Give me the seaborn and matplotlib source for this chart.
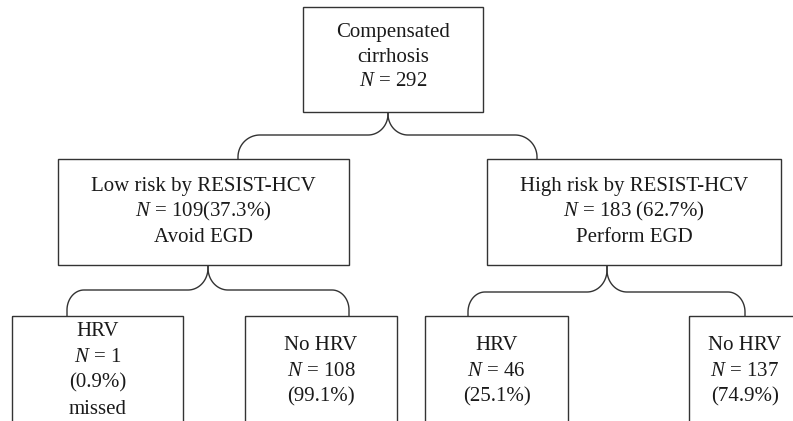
import numpy as np
import matplotlib
matplotlib.use("Agg")
import matplotlib.pyplot as plt
from matplotlib.patches import Rectangle
import seaborn as sns

# flowchart values
total_label = ["Compensated", "cirrhosis"]
total_n = 292
risk_groups = ["Low risk by RESIST-HCV", "High risk by RESIST-HCV"]
risk_n = [109, 183]
risk_pct = ["(37.3%)", "(62.7%)"]
risk_sep = ["", " "]
risk_action = ["Avoid EGD", "Perform EGD"]
outcome_labels = ["HRV", "No HRV", "HRV", "No HRV"]
outcome_n = [1, 108, 46, 137]
outcome_pct = ["(0.9%)", "(99.1%)", "(25.1%)", "(74.9%)"]
outcome_note = ["missed", "", "", ""]

sns.set_style("white")
plt.rcParams['font.family'] = ['Liberation Serif', 'DejaVu Serif']
plt.rcParams['mathtext.fontset'] = 'custom'
plt.rcParams['mathtext.rm'] = 'Liberation Serif'
plt.rcParams['mathtext.it'] = 'Liberation Serif:italic'

LC = '#333333'
LW = 1.0
FS = 15

fig = plt.figure(figsize=(7.93, 4.21), dpi=100)
ax = fig.add_axes([0, 0, 1, 1])
ax.set_xlim(0, 793)
ax.set_ylim(421, 0)
ax.axis('off')


def box(x0, y0, x1, y1):
    ax.add_patch(Rectangle((x0, y0), x1 - x0, y1 - y0, fill=False,
                           edgecolor=LC, linewidth=LW, clip_on=True))


def lines(xc, y0, texts, step=26):
    for i, t in enumerate(texts):
        ax.text(xc, y0 + i * step, t, ha='center', va='center', fontsize=FS,
                color='#1a1a1a')


def arc(cx, cy, rx, ry, t0, t1):
    t = np.radians(np.linspace(t0, t1, 30))
    return cx + rx * np.cos(t), cy - ry * np.sin(t)


def brace(xc, ytop, ybar, ybot, xl, xr, rx=20, ry=21, rx2=18, ry2=20):
    xs, ys = [], []
    # left drop
    xs += [xl]; ys += [ybot]
    a = arc(xl + rx2, ybar + ry2, rx2, ry2, 180, 90)
    xs += list(a[0]); ys += list(a[1])
    a = arc(xc - rx, ybar - ry, rx, ry, 270, 360)
    xs += list(a[0]); ys += list(a[1])
    xs += [xc]; ys += [ytop]
    ax.plot(xs, ys, color=LC, lw=LW, solid_capstyle='butt')
    xs, ys = [xc], [ytop]
    a = arc(xc + rx, ybar - ry, rx, ry, 180, 270)
    xs += list(a[0]); ys += list(a[1])
    a = arc(xr - rx2, ybar + ry2, rx2, ry2, 90, 0)
    xs += list(a[0]); ys += list(a[1])
    xs += [xr]; ys += [ybot]
    ax.plot(xs, ys, color=LC, lw=LW, solid_capstyle='butt')


# top box
box(303, 7, 483, 112)
lines(393, 32, total_label + [f"$N$ = {total_n}"], step=25)

# middle boxes
mid = [(58, 349), (487, 781)]
for i, (x0, x1) in enumerate(mid):
    box(x0, 159, x1, 265)
    lines((x0 + x1) / 2, 186, [risk_groups[i],
                               f"$N$ = {risk_n[i]}{risk_sep[i]}{risk_pct[i]}",
                               risk_action[i]], step=25.5)

brace(388, 112, 135, 159, 238, 537, rx=20, ry=21, rx2=22, ry2=22)

# bottom boxes (cut at image edge)
bot = [(12, 183), (245, 397), (425, 568), (689, 801)]
for i, (x0, x1) in enumerate(bot):
    box(x0, 316, x1, 440)
    txt = [outcome_labels[i], f"$N$ = {outcome_n[i]}", outcome_pct[i]]
    if outcome_note[i]:
        lines((x0 + x1) / 2, 331, txt + [outcome_note[i]])
    else:
        lines((x0 + x1) / 2, 345, txt)

brace(208, 265, 290, 316, 67, 349, rx=20, ry=22, rx2=17, ry2=20)
brace(607, 265, 292, 316, 468, 745, rx=20, ry=22, rx2=17, ry2=20)

fig.savefig("out.png", dpi=100)
